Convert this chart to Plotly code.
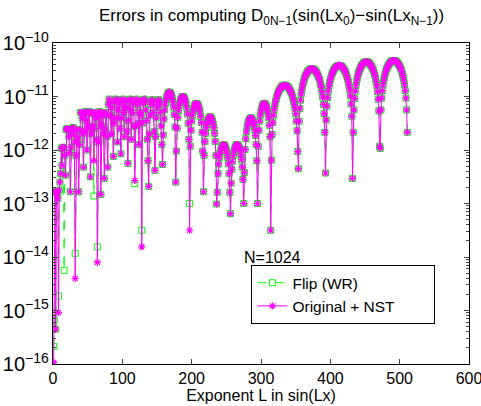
import plotly.graph_objects as go

# log10 of the error, "Original + NST" series, L = 1 .. 511
nst_log_001_040 = [-15.97, -12.80, -12.78, -15.35, -12.78, -12.80, -12.90, -15.04, -12.75, -12.60,
                   -12.44, -11.97, -12.29, -11.95, -11.96, -11.95, -12.10, -12.47, -11.62, -11.60,
                   -11.60, -11.62, -11.75, -12.05, -12.78, -11.95, -11.70, -11.60, -11.58, -11.65,
                   -11.85, -14.40, -12.10, -11.75, -11.62, -11.80, -12.78, -11.90, -11.62, -11.30]
nst_log_041_080 = [-11.30, -11.40, -11.70, -12.32, -11.65, -11.35, -11.28, -11.45, -12.00, -11.55,
                   -11.30, -11.28, -11.60, -12.50, -11.70, -11.32, -11.30, -11.55, -12.20, -11.60,
                   -11.30, -11.40, -11.80, -14.10, -11.85, -11.38, -11.28, -11.50, -12.83, -11.55,
                   -11.30, -11.35, -11.70, -12.53, -11.62, -11.30, -11.35, -11.75, -12.32, -11.15]
nst_log_081_130 = [-11.05, -11.10, -11.35, -11.70, -11.20, -11.40, -12.12, -11.50, -11.10, -11.05,
                   -11.08, -11.40, -11.85, -11.25, -11.06, -11.15, -11.60, -12.07, -11.40, -11.08,
                   -11.05, -11.30, -11.75, -11.20, -11.08, -11.20, -11.65, -12.25, -11.45, -11.08,
                   -11.05, -11.25, -11.80, -11.30, -11.06, -11.12, -11.55, -12.57, -11.55, -11.10,
                   -11.05, -11.15, -11.50, -11.90, -11.30, -11.08, -11.35, -13.81, -11.50, -11.12]
nst_log_131_200 = [-11.06, -11.05, -11.10, -11.25, -11.45, -11.80, -12.20, -12.68, -11.70, -11.35,
                   -11.15, -11.08, -11.06, -11.12, -11.30, -11.65, -12.38, -11.75, -11.40, -11.20,
                   -11.10, -11.06, -11.08, -11.15, -11.30, -11.55, -11.90, -12.27, -11.72, -11.42,
                   -11.25, -11.14, -11.06, -11.01, -10.96, -10.94, -10.92, -10.92, -10.93, -10.95,
                   -10.98, -11.04, -11.11, -11.20, -11.34, -11.57, -12.60, -12.02, -11.59, -11.39,
                   -11.26, -11.17, -11.11, -11.06, -11.03, -11.01, -11.00, -11.00, -11.02, -11.04,
                   -11.09, -11.14, -11.22, -11.33, -11.50, -11.80, -13.50, -11.93, -11.63, -11.46]
nst_log_201_260 = [-11.35, -11.27, -11.22, -11.17, -11.15, -11.13, -11.13, -11.14, -11.15, -11.18,
                   -11.23, -11.29, -11.37, -11.49, -11.67, -12.02, -12.78, -12.10, -11.84, -11.69,
                   -11.58, -11.51, -11.46, -11.42, -11.40, -11.38, -11.38, -11.40, -11.42, -11.46,
                   -11.51, -11.58, -11.69, -11.84, -12.10, -13.01, -12.79, -12.44, -12.26, -12.14,
                   -12.06, -12.00, -11.96, -11.92, -11.91, -11.90, -11.91, -11.92, -11.96, -12.00,
                   -12.06, -12.14, -12.26, -12.44, -12.79, -13.19, -12.62, -12.36, -12.21, -12.10]
nst_log_261_320 = [-12.02, -11.98, -11.94, -11.91, -11.90, -11.90, -11.91, -11.93, -11.96, -12.01,
                   -12.09, -12.18, -12.32, -12.55, -13.00, -12.42, -11.99, -11.79, -11.66, -11.57,
                   -11.51, -11.46, -11.43, -11.41, -11.40, -11.40, -11.42, -11.44, -11.49, -11.54,
                   -11.62, -11.73, -11.90, -12.20, -13.00, -11.93, -11.63, -11.46, -11.35, -11.27,
                   -11.22, -11.17, -11.15, -11.13, -11.13, -11.14, -11.16, -11.19, -11.24, -11.31,
                   -11.40, -11.54, -11.75, -13.50, -12.19, -11.71, -11.49, -11.35, -11.24, -11.16]
nst_log_321_393 = [-11.09, -11.04, -10.99, -10.95, -10.92, -10.89, -10.87, -10.85, -10.83, -10.81,
                   -10.80, -10.80, -10.79, -10.79, -10.79, -10.80, -10.80, -10.81, -10.83, -10.84,
                   -10.86, -10.89, -10.91, -10.94, -10.98, -11.03, -11.08, -11.15, -11.22, -11.32,
                   -11.46, -11.64, -12.03, -12.35, -11.46, -11.22, -11.07, -10.95, -10.87, -10.80,
                   -10.74, -10.69, -10.65, -10.61, -10.59, -10.56, -10.54, -10.52, -10.51, -10.50,
                   -10.49, -10.48, -10.48, -10.48, -10.49, -10.49, -10.50, -10.51, -10.53, -10.55,
                   -10.57, -10.60, -10.63, -10.67, -10.71, -10.77, -10.83, -10.91, -11.01, -11.15,
                   -11.32, -11.67, -12.43]
nst_log_394_452 = [-11.44, -11.18, -11.02, -10.90, -10.81, -10.74, -10.68, -10.64, -10.59, -10.56,
                   -10.53, -10.50, -10.48, -10.46, -10.45, -10.44, -10.43, -10.42, -10.42, -10.42,
                   -10.42, -10.43, -10.43, -10.44, -10.46, -10.48, -10.50, -10.52, -10.55, -10.59,
                   -10.63, -10.67, -10.73, -10.80, -10.88, -10.99, -11.14, -11.37, -12.53, -11.67,
                   -11.25, -11.04, -10.90, -10.79, -10.71, -10.65, -10.59, -10.55, -10.51, -10.48,
                   -10.45, -10.42, -10.40, -10.39, -10.37, -10.36, -10.36, -10.35, -10.35]
nst_log_453_511 = [-10.35, -10.36, -10.36, -10.37, -10.39, -10.41, -10.43, -10.45, -10.48, -10.51,
                   -10.55, -10.60, -10.65, -10.72, -10.80, -10.91, -11.05, -11.27, -11.93, -11.97,
                   -11.25, -11.03, -10.89, -10.78, -10.70, -10.63, -10.58, -10.53, -10.49, -10.46,
                   -10.43, -10.41, -10.39, -10.37, -10.35, -10.34, -10.34, -10.33, -10.33, -10.33,
                   -10.33, -10.34, -10.34, -10.35, -10.37, -10.39, -10.41, -10.43, -10.46, -10.49,
                   -10.53, -10.58, -10.63, -10.70, -10.78, -10.89, -11.03, -11.25, -11.67]

flip_L_differs = [1, 2, 8, 16, 32, 59, 64, 118, 128, 197]
flip_log_differs = [-15.67, -15.18, -14.73, -14.25, -13.93, -12.86, -13.81, -12.63, -13.50, -13.00]

x_ticks = [0, 100, 200, 300, 400, 500, 600]

nst_log = (nst_log_001_040 + nst_log_041_080 + nst_log_081_130 + nst_log_131_200 +
           nst_log_201_260 + nst_log_261_320 + nst_log_321_393 + nst_log_394_452 + nst_log_453_511)
L_vals = list(range(1, len(nst_log) + 1))
flip_log = list(nst_log)
for L, v in zip(flip_L_differs, flip_log_differs):
    flip_log[L - 1] = v

nst_err = [10 ** v for v in nst_log]
flip_err = [10 ** v for v in flip_log]

GREEN = "rgb(0,255,0)"
MAGENTA = "rgb(255,0,255)"
FONT = "Liberation Sans, Arial, Helvetica, sans-serif"
NB = "\u00a0"

fig = go.Figure()
fig.add_trace(go.Scatter(
    x=L_vals, y=flip_err, mode="lines+markers", name="Flip (WR)",
    line=dict(color=GREEN, width=1, dash="dash"),
    marker=dict(symbol="square-open", size=6, color=GREEN, line=dict(color=GREEN, width=1)),
))
fig.add_trace(go.Scatter(
    x=L_vals, y=nst_err, mode="lines+markers", name="Original + NST" + NB * 8,
    line=dict(color=MAGENTA, width=1),
    marker=dict(symbol="asterisk-open", size=6, color=MAGENTA, line=dict(color=MAGENTA, width=1.2)),
))

fig.add_annotation(text="N=1024", x=0.454, y=0.333, xref="paper", yref="paper",
                   xanchor="left", yanchor="middle", showarrow=False,
                   font=dict(family=FONT, size=16, color="black"))

fig.update_layout(
    width=481, height=406,
    margin=dict(l=53, r=12, t=43, b=42),
    paper_bgcolor="white", plot_bgcolor="white",
    font=dict(family=FONT, size=16, color="black"),
    title=dict(text="Errors in computing D<sub>0N\u22121</sub>(sin(Lx<sub>0</sub>)\u2212sin(Lx<sub>N\u22121</sub>))",
               x=0.5645, xanchor="center", y=1 - 15 / 406, yanchor="middle", yref="container",
               font=dict(family=FONT, size=17, color="black")),
    showlegend=True,
    legend=dict(x=0.477, y=0.308, xanchor="left", yanchor="top",
                bgcolor="white", bordercolor="black", borderwidth=1,
                font=dict(family=FONT, size=15.5, color="black"),
                tracegroupgap=0, itemwidth=30),
    xaxis=dict(range=[0, 600], tickvals=x_ticks, ticks="inside", ticklen=5,
               showline=True, linecolor="black", linewidth=1, mirror="ticks",
               showgrid=False, zeroline=False, automargin=False,
               ticklabeloverflow="allow",
               tickfont=dict(family=FONT, size=16, color="black"),
               title=dict(text="Exponent L in sin(Lx)", standoff=0,
                          font=dict(family=FONT, size=16, color="black"))),
    yaxis=dict(type="log", range=[-16, -10], dtick=1, exponentformat="power",
               ticks="inside", ticklen=5, automargin=False,
               ticklabeloverflow="allow",
               tickfont=dict(family=FONT, size=16, color="black"),
               minor=dict(ticks="inside", ticklen=3, showgrid=False),
               showline=True, linecolor="black", linewidth=1, mirror="ticks",
               showgrid=False, zeroline=False),
)

fig.write_html("out.html")
